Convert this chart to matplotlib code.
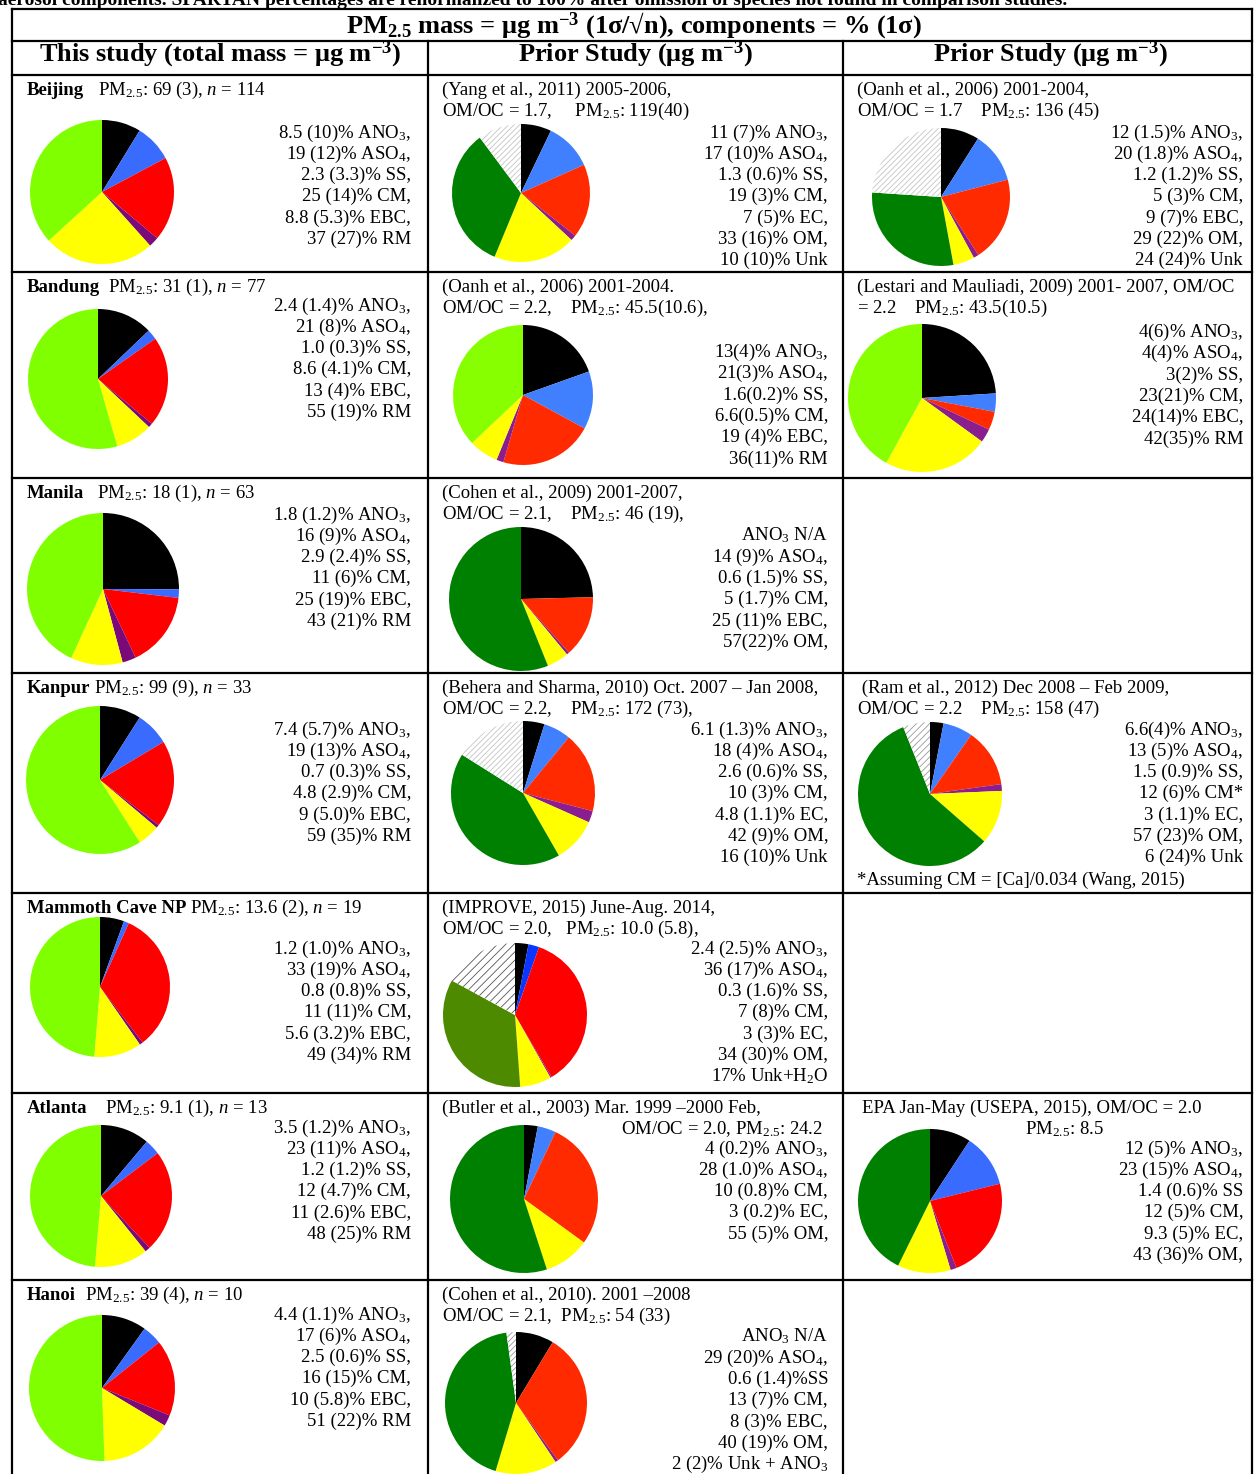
import matplotlib
matplotlib.use("Agg")
import matplotlib.pyplot as plt

plt.rcParams['font.family'] = ['Liberation Serif', 'DejaVu Serif']
plt.rcParams['mathtext.fontset'] = 'custom'
plt.rcParams['mathtext.rm'] = 'Liberation Serif'
plt.rcParams['mathtext.it'] = 'Liberation Serif:italic'
plt.rcParams['mathtext.bf'] = 'Liberation Serif:bold'
plt.rcParams['hatch.linewidth'] = 0.6

# ------------------------------
# DATA (percent of PM2.5 mass, clockwise from 12 o'clock)
# ------------------------------
SP_KEYS = ['EBC', 'ANO3', 'ASO4', 'SS', 'CM', 'RM']

beijing_sp = [8.8, 8.5, 19, 2.3, 25, 37]
bandung_sp = [13, 2.4, 21, 1.0, 8.6, 55]
manila_sp = [25, 1.8, 16, 2.9, 11, 43]
kanpur_sp = [9, 7.4, 19, 0.7, 4.8, 59]
mammoth_sp = [5.6, 1.2, 33, 0.8, 11, 49]
atlanta_sp = [11, 3.5, 23, 1.2, 12, 48]
hanoi_sp = [10, 4.4, 17, 2.5, 16, 51]

yang_keys = ['EC', 'ANO3', 'ASO4', 'SS', 'CM', 'OM', 'Unk']
yang_vals = [7, 11, 17, 1.3, 19, 33, 10]
oanh_bj_keys = ['EBC', 'ANO3', 'ASO4', 'SS', 'CM', 'OM', 'Unk']
oanh_bj_vals = [9, 12, 20, 1.2, 5, 29, 24]
oanh_bd_keys = ['EBC', 'ANO3', 'ASO4', 'SS', 'CM', 'RM']
oanh_bd_vals = [19, 13, 21, 1.6, 6.6, 36]
lestari_keys = ['EBC', 'ANO3', 'ASO4', 'SS', 'CM', 'RM']
lestari_vals = [24, 4, 4, 3, 23, 42]
cohen09_keys = ['EBC', 'ASO4', 'SS', 'CM', 'OM']
cohen09_vals = [25, 14, 0.6, 5, 57]
behera_keys = ['EC', 'ANO3', 'ASO4', 'SS', 'CM', 'OM', 'Unk']
behera_vals = [4.8, 6.1, 18, 2.6, 10, 42, 16]
ram_keys = ['EC', 'ANO3', 'ASO4', 'SS', 'CM', 'OM', 'Unk']
ram_vals = [3, 6.6, 13, 1.5, 12, 57, 6]
improve_keys = ['EC', 'ANO3', 'ASO4', 'SS', 'CM', 'OM', 'Unk']
improve_vals = [3, 2.4, 36, 0.3, 7, 34, 17]
butler_keys = ['EC', 'ANO3', 'ASO4', 'CM', 'OM']
butler_vals = [3, 4, 28, 10, 55]
epa_keys = ['EC', 'ANO3', 'ASO4', 'SS', 'CM', 'OM']
epa_vals = [9.3, 12, 23, 1.4, 12, 43]
cohen10_keys = ['EBC', 'ASO4', 'SS', 'CM', 'OM', 'Unk']
cohen10_vals = [8, 29, 0.6, 13, 40, 2]

# ------------------------------
# TEXT
# ------------------------------
PM = r'PM$_{2.5}$'
A3 = r'ANO$_3$'
A4 = r'ASO$_4$'

sites = ['Beijing', 'Bandung', 'Manila', 'Kanpur', 'Mammoth Cave NP', 'Atlanta', 'Hanoi']
site_mass = [PM + r': 69 (3), $n$ = 114', PM + r': 31 (1), $n$ = 77', PM + r': 18 (1), $n$ = 63',
             PM + r': 99 (9), $n$ = 33', PM + r': 13.6 (2), $n$ = 19', PM + r': 9.1 (1), $n$ = 13',
             PM + r': 39 (4), $n$ = 10']

beijing_sp_lbl = ['8.5 (10)% ' + A3 + ',', '19 (12)% ' + A4 + ',', '2.3 (3.3)% SS,', '25 (14)% CM,',
                  '8.8 (5.3)% EBC,', '37 (27)% RM']
bandung_sp_lbl = ['2.4 (1.4)% ' + A3 + ',', '21 (8)% ' + A4 + ',', '1.0 (0.3)% SS,', '8.6 (4.1)% CM,',
                  '13 (4)% EBC,', '55 (19)% RM']
manila_sp_lbl = ['1.8 (1.2)% ' + A3 + ',', '16 (9)% ' + A4 + ',', '2.9 (2.4)% SS,', '11 (6)% CM,',
                 '25 (19)% EBC,', '43 (21)% RM']
kanpur_sp_lbl = ['7.4 (5.7)% ' + A3 + ',', '19 (13)% ' + A4 + ',', '0.7 (0.3)% SS,', '4.8 (2.9)% CM,',
                 '9 (5.0)% EBC,', '59 (35)% RM']
mammoth_sp_lbl = ['1.2 (1.0)% ' + A3 + ',', '33 (19)% ' + A4 + ',', '0.8 (0.8)% SS,', '11 (11)% CM,',
                  '5.6 (3.2)% EBC,', '49 (34)% RM']
atlanta_sp_lbl = ['3.5 (1.2)% ' + A3 + ',', '23 (11)% ' + A4 + ',', '1.2 (1.2)% SS,', '12 (4.7)% CM,',
                  '11 (2.6)% EBC,', '48 (25)% RM']
hanoi_sp_lbl = ['4.4 (1.1)% ' + A3 + ',', '17 (6)% ' + A4 + ',', '2.5 (0.6)% SS,', '16 (15)% CM,',
                '10 (5.8)% EBC,', '51 (22)% RM']

yang_head = ['(Yang et al., 2011) 2005-2006,', 'OM/OC = 1.7,     ' + PM + ': 119(40)']
yang_lbl = ['11 (7)% ' + A3 + ',', '17 (10)% ' + A4 + ',', '1.3 (0.6)% SS,', '19 (3)% CM,',
            '7 (5)% EC,', '33 (16)% OM,', '10 (10)% Unk']
oanh_bj_head = ['(Oanh et al., 2006) 2001-2004,', 'OM/OC = 1.7    ' + PM + ': 136 (45)']
oanh_bj_lbl = ['12 (1.5)% ' + A3 + ',', '20 (1.8)% ' + A4 + ',', '1.2 (1.2)% SS,', '5 (3)% CM,',
               '9 (7)% EBC,', '29 (22)% OM,', '24 (24)% Unk']
oanh_bd_head = ['(Oanh et al., 2006) 2001-2004.', 'OM/OC = 2.2,    ' + PM + ': 45.5(10.6),']
oanh_bd_lbl = ['13(4)% ' + A3 + ',', '21(3)% ' + A4 + ',', '1.6(0.2)% SS,', '6.6(0.5)% CM,',
               '19 (4)% EBC,', '36(11)% RM']
lestari_head = ['(Lestari and Mauliadi, 2009) 2001- 2007, OM/OC', '= 2.2    ' + PM + ': 43.5(10.5)']
lestari_lbl = ['4(6)% ' + A3 + ',', '4(4)% ' + A4 + ',', '3(2)% SS,', '23(21)% CM,',
               '24(14)% EBC,', '42(35)% RM']
cohen09_head = ['(Cohen et al., 2009) 2001-2007,', 'OM/OC = 2.1,    ' + PM + ': 46 (19),']
cohen09_lbl = [A3 + ' N/A', '14 (9)% ' + A4 + ',', '0.6 (1.5)% SS,', '5 (1.7)% CM,',
               '25 (11)% EBC,', '57(22)% OM,']
behera_head = ['(Behera and Sharma, 2010) Oct. 2007 \u2013 Jan 2008,', 'OM/OC = 2.2,    ' + PM + ': 172 (73),']
behera_lbl = ['6.1 (1.3)% ' + A3 + ',', '18 (4)% ' + A4 + ',', '2.6 (0.6)% SS,', '10 (3)% CM,',
              '4.8 (1.1)% EC,', '42 (9)% OM,', '16 (10)% Unk']
ram_head = [' (Ram et al., 2012) Dec 2008 \u2013 Feb 2009,', 'OM/OC = 2.2    ' + PM + ': 158 (47)']
ram_lbl = ['6.6(4)% ' + A3 + ',', '13 (5)% ' + A4 + ',', '1.5 (0.9)% SS,', '12 (6)% CM*',
           '3 (1.1)% EC,', '57 (23)% OM,', '6 (24)% Unk']
ram_note = '*Assuming CM = [Ca]/0.034 (Wang, 2015)'
improve_head = ['(IMPROVE, 2015) June-Aug. 2014,', 'OM/OC = 2.0,   ' + PM + ': 10.0 (5.8),']
improve_lbl = ['2.4 (2.5)% ' + A3 + ',', '36 (17)% ' + A4 + ',', '0.3 (1.6)% SS,', '7 (8)% CM,',
               '3 (3)% EC,', '34 (30)% OM,', r'17% Unk+H$_2$O']
butler_head = ['(Butler et al., 2003) Mar. 1999 \u20132000 Feb,', 'OM/OC = 2.0, ' + PM + ': 24.2']
butler_lbl = ['4 (0.2)% ' + A3 + ',', '28 (1.0)% ' + A4 + ',', '10 (0.8)% CM,', '3 (0.2)% EC,',
              '55 (5)% OM,']
epa_head = ['EPA Jan-May (USEPA, 2015), OM/OC = 2.0', PM + ': 8.5']
epa_lbl = ['12 (5)% ' + A3 + ',', '23 (15)% ' + A4 + ',', '1.4 (0.6)% SS', '12 (5)% CM,',
           '9.3 (5)% EC,', '43 (36)% OM,']
cohen10_head = ['(Cohen et al., 2010). 2001 \u20132008', 'OM/OC = 2.1,  ' + PM + ': 54 (33)']
cohen10_lbl = [A3 + ' N/A', '29 (20)% ' + A4 + ',', '0.6 (1.4)%SS', '13 (7)% CM,', '8 (3)% EBC,',
               '40 (19)% OM,', '2 (2)% Unk + ' + A3]

# ------------------------------
# COLOURS
# ------------------------------
SP_COL = {'EBC': 'black', 'ANO3': '#3A6BFF', 'ASO4': '#FF0000', 'SS': '#7A0A7A',
          'CM': '#FFFF00', 'RM': '#80FF00'}
PR_COL = {'EBC': 'black', 'EC': 'black', 'ANO3': '#4080FF', 'ASO4': '#FF2A00', 'SS': '#8B1E8E',
          'CM': '#FFFF00', 'RM': '#88FF00', 'OM': '#008000', 'Unk': 'white'}

# ------------------------------
# FIGURE
# ------------------------------
W, H = 1254, 1474
fig = plt.figure(figsize=(W / 100, H / 100), dpi=100)
ax = fig.add_axes([0, 0, 1, 1])
ax.set_xlim(0, W)
ax.set_ylim(H, 0)
ax.axis('off')

FS = 13.5
STEP = 21.3
COL_LEFT = [27, 442, 857]
COL_RIGHT = [411, 828, 1243]
ROW_TOP = [75, 272, 478, 673, 893, 1093, 1280]


def draw_pie(cx, cy, r, keys, vals, palette, override=None, hatch_col='#c4c4c4', hatch='//////'):
    pal = dict(palette)
    if override:
        pal.update(override)
    pa = fig.add_axes([(cx - r) / W, 1 - (cy + r) / H, 2 * r / W, 2 * r / H])
    wedges, _ = pa.pie(vals, colors=[pal[k] for k in keys], startangle=90, counterclock=False,
                       wedgeprops=dict(linewidth=0))
    for w, k in zip(wedges, keys):
        if k == 'Unk':
            w.set_facecolor('white')
            w.set_edgecolor(hatch_col)
            w.set_hatch(hatch)
            w.set_linewidth(0)
    pa.set_xlim(-1, 1)
    pa.set_ylim(-1, 1)
    pa.set_aspect('equal')
    pa.axis('off')


def draw_lines(col, y0, lines):
    for i, s in enumerate(lines):
        ax.text(COL_RIGHT[col], y0 + i * STEP, s, fontsize=FS, ha='right', va='baseline')


def draw_head(col, row, lines, xs=None):
    for i, s in enumerate(lines):
        x = xs[i] if xs else COL_LEFT[col]
        ax.text(x, ROW_TOP[row] + 20 + i * STEP, s, fontsize=FS, ha='left', va='baseline')


# --- table frame ---
lw = 1.6
ax.plot([12, 1252], [9, 9], color='black', lw=lw)
ax.plot([12, 1252], [41, 41], color='black', lw=lw)
for y in ROW_TOP:
    ax.plot([12, 1252], [y, y], color='black', lw=lw)
ax.plot([12, 12], [9, H], color='black', lw=lw)
ax.plot([1252, 1252], [9, H], color='black', lw=lw)
for x in [428, 843]:
    ax.plot([x, x], [41, H], color='black', lw=lw)

# --- caption tail and headers ---
ax.text(-2, 4.5, 'aerosol components. SPARTAN percentages are renormalized to 100% after omission of '
        'species not found in comparison studies.', fontsize=14, fontweight='bold', va='baseline')
ax.text(634, 33, r'PM$_{\mathbf{2.5}}$ mass = ' + '\u03bcg m' + r'$^{\mathbf{-3}}$'
        + ' (1\u03c3/\u221an), components = % (1\u03c3)',
        fontsize=19, fontweight='bold', ha='center', va='baseline')
col_heads = [r'This study (total mass = $\mathbf{\mu}$g m$^{\mathbf{-3}}$)',
             r'Prior Study ($\mathbf{\mu}$g m$^{\mathbf{-3}}$)',
             r'Prior Study ($\mathbf{\mu}$g m$^{\mathbf{-3}}$)']
for cx, s in zip([220, 635, 1050], col_heads):
    ax.text(cx, 61, s, fontsize=19, fontweight='bold', ha='center', va='baseline')

# --- SPARTAN column ---
sp_vals = [beijing_sp, bandung_sp, manila_sp, kanpur_sp, mammoth_sp, atlanta_sp, hanoi_sp]
sp_lbls = [beijing_sp_lbl, bandung_sp_lbl, manila_sp_lbl, kanpur_sp_lbl, mammoth_sp_lbl,
           atlanta_sp_lbl, hanoi_sp_lbl]
sp_mass_x = [98, 108, 97, 94, 190, 105, 85]
sp_pie = [(102, 192, 72), (98, 379, 70), (103, 589, 76), (100, 780, 74), (100, 987, 70),
          (101, 1196, 71), (102, 1388, 73)]
sp_y0 = [137.5, 310.5, 519.5, 734.5, 953.5, 1132.5, 1319.5]

for i in range(len(sites)):
    top = ROW_TOP[i]
    ax.text(27, top + 20, sites[i], fontsize=FS, fontweight='bold', va='baseline')
    ax.text(sp_mass_x[i], top + 20, site_mass[i], fontsize=FS, va='baseline')
    cx, cy, r = sp_pie[i]
    draw_pie(cx, cy, r, SP_KEYS, sp_vals[i], SP_COL)
    draw_lines(0, sp_y0[i], sp_lbls[i])

# --- prior studies ---
# Beijing
draw_head(1, 0, yang_head)
draw_pie(521, 193, 69, yang_keys, yang_vals, PR_COL)
draw_lines(1, 137.5, yang_lbl)
draw_head(2, 0, oanh_bj_head)
draw_pie(941, 197, 69, oanh_bj_keys, oanh_bj_vals, PR_COL)
draw_lines(2, 137.5, oanh_bj_lbl)

# Bandung
draw_head(1, 1, oanh_bd_head)
draw_pie(523, 395, 70, oanh_bd_keys, oanh_bd_vals, PR_COL)
draw_lines(1, 357, oanh_bd_lbl)
draw_head(2, 1, lestari_head)
draw_pie(922, 398, 74, lestari_keys, lestari_vals, PR_COL)
draw_lines(2, 337, lestari_lbl)

# Manila
draw_head(1, 2, cohen09_head)
draw_pie(521, 599, 72, cohen09_keys, cohen09_vals, PR_COL)
draw_lines(1, 540.5, cohen09_lbl)

# Kanpur
draw_head(1, 3, behera_head)
draw_pie(523, 793, 72, behera_keys, behera_vals, PR_COL)
draw_lines(1, 734.5, behera_lbl)
draw_head(2, 3, ram_head)
draw_pie(930, 794, 72, ram_keys, ram_vals, PR_COL, hatch_col='#9a9a9a', hatch='/////')
draw_lines(2, 734.5, ram_lbl)
ax.text(857, 885, ram_note, fontsize=FS, va='baseline')

# Mammoth Cave
draw_head(1, 4, improve_head)
draw_pie(515, 1015, 72, improve_keys, improve_vals, PR_COL,
         override={'ANO3': '#0A36FF', 'ASO4': '#FF0000', 'OM': '#4E8A00'},
         hatch_col='#555555', hatch='////')
draw_lines(1, 953.5, improve_lbl)

# Atlanta
draw_head(1, 5, butler_head, xs=[442, 621])
draw_pie(524, 1199, 74, butler_keys, butler_vals, PR_COL)
draw_lines(1, 1153.5, butler_lbl)
draw_head(2, 5, epa_head, xs=[862, 1025])
draw_pie(930, 1201, 72, epa_keys, epa_vals, PR_COL, override={'ASO4': '#FF0000', 'ANO3': '#3A6BFF'})
draw_lines(2, 1153.5, epa_lbl)

# Hanoi
draw_head(1, 6, cohen10_head)
draw_pie(516, 1403, 71, cohen10_keys, cohen10_vals, PR_COL, hatch_col='#9a9a9a')
draw_lines(1, 1341.5, cohen10_lbl)

fig.savefig('out.png', dpi=100)
